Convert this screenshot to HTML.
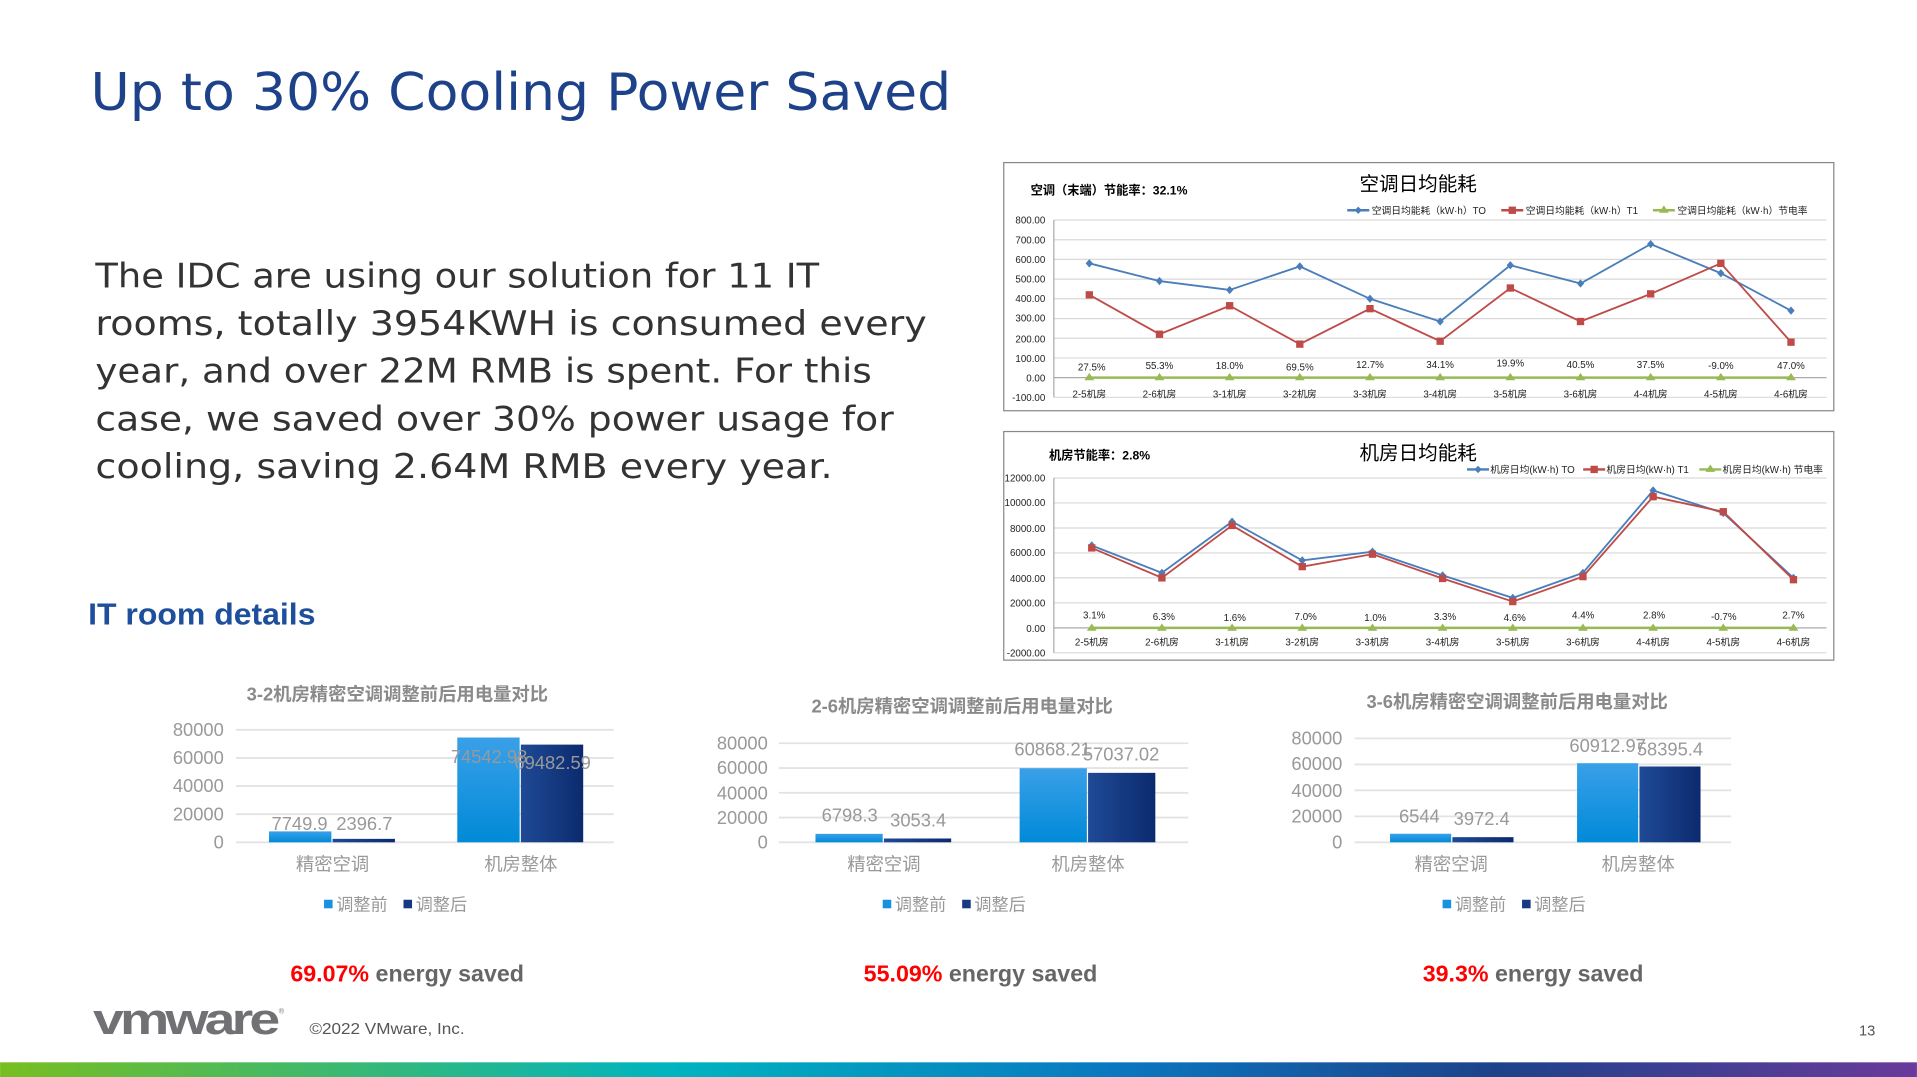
<!DOCTYPE html>
<html><head><meta charset="utf-8"><style>
html,body{margin:0;padding:0;background:#fff;}
svg{display:block;}
text{font-family:"Liberation Sans","Noto Sans CJK SC",sans-serif;}
.dj{font-family:"DejaVu Sans","Liberation Sans",sans-serif;}
</style></head><body>
<svg width="1917" height="1077" viewBox="0 0 1568 881" xmlns="http://www.w3.org/2000/svg">
<defs>
<linearGradient id="foot" x1="0" x2="1" y1="0" y2="0">
<stop offset="0" stop-color="#78be20"/><stop offset="0.35" stop-color="#00b4c0"/><stop offset="0.58" stop-color="#0a78c0"/><stop offset="0.78" stop-color="#1d428a"/><stop offset="1" stop-color="#6a3a9c"/>
</linearGradient>
<linearGradient id="lb" x1="0" x2="0" y1="0" y2="1"><stop offset="0" stop-color="#3aa0e8"/><stop offset="1" stop-color="#008ad8"/></linearGradient>
<linearGradient id="db" x1="0" x2="1" y1="0" y2="0"><stop offset="0" stop-color="#1f4a96"/><stop offset="1" stop-color="#0c2a6e"/></linearGradient>
</defs>
<rect width="1568" height="881" fill="#fff"/>
<text class="dj" x="74" y="90" font-size="42" fill="#1d428a" textLength="704" lengthAdjust="spacingAndGlyphs">Up to 30% Cooling Power Saved</text>
<g font-size="28" fill="#333" class="dj">
<text class="dj" x="78" y="235" textLength="592" lengthAdjust="spacingAndGlyphs">The IDC are using our solution for 11 IT</text>
<text class="dj" x="78" y="274" textLength="680" lengthAdjust="spacingAndGlyphs">rooms, totally 3954KWH is consumed every</text>
<text class="dj" x="78" y="313" textLength="635" lengthAdjust="spacingAndGlyphs">year, and over 22M RMB is spent. For this</text>
<text class="dj" x="78" y="352" textLength="653" lengthAdjust="spacingAndGlyphs">case, we saved over 30% power usage for</text>
<text class="dj" x="78" y="391" textLength="603" lengthAdjust="spacingAndGlyphs">cooling, saving 2.64M RMB every year.</text>
</g>
<text x="72" y="511" font-size="25" font-weight="bold" fill="#1d4f9c" textLength="186" lengthAdjust="spacingAndGlyphs">IT room details</text>

<!-- Chart 1 -->
<rect x="821" y="133" width="679" height="203" fill="#fff" stroke="#888" stroke-width="1"/>
<text x="843" y="159" font-size="10" font-weight="bold" fill="#000">空调（末端）节能率：32.1%</text>
<text x="1160" y="156" font-size="16" text-anchor="middle" fill="#000">空调日均能耗</text>
<g font-size="8" fill="#222">
<line x1="1102" y1="172" x2="1120" y2="172" stroke="#4a7ebb" stroke-width="2"/><path d="M1111 169l3 3-3 3-3-3z" fill="#4a7ebb"/><text x="1122" y="175">空调日均能耗（kW·h）TO</text>
<line x1="1228" y1="172" x2="1246" y2="172" stroke="#be4b48" stroke-width="2"/><rect x="1234" y="169" width="6" height="6" fill="#be4b48"/><text x="1248" y="175">空调日均能耗（kW·h）T1</text>
<line x1="1352" y1="172" x2="1370" y2="172" stroke="#98b954" stroke-width="2"/><path d="M1361 168l4 6h-8z" fill="#98b954"/><text x="1372" y="175">空调日均能耗（kW·h）节电率</text>
</g>
<g stroke="#d9d9d9" stroke-width="1">
<line x1="862" x2="1494" y1="180" y2="180"/><line x1="862" x2="1494" y1="196.1" y2="196.1"/><line x1="862" x2="1494" y1="212.2" y2="212.2"/><line x1="862" x2="1494" y1="228.3" y2="228.3"/><line x1="862" x2="1494" y1="244.4" y2="244.4"/><line x1="862" x2="1494" y1="260.6" y2="260.6"/><line x1="862" x2="1494" y1="276.7" y2="276.7"/><line x1="862" x2="1494" y1="292.8" y2="292.8"/><line x1="862" x2="1494" y1="325" y2="325"/>
</g>
<line x1="862" x2="1494" y1="308.9" y2="308.9" stroke="#aaa"/>
<line x1="862" x2="862" y1="180" y2="325" stroke="#aaa"/>
<g font-size="8" fill="#222" text-anchor="end">
<text x="855" y="183">800.00</text><text x="855" y="199">700.00</text><text x="855" y="215">600.00</text><text x="855" y="231">500.00</text><text x="855" y="247">400.00</text><text x="855" y="263">300.00</text><text x="855" y="280">200.00</text><text x="855" y="296">100.00</text><text x="855" y="312">0.00</text><text x="855" y="328">-100.00</text>
</g>
<polyline fill="none" stroke="#4a7ebb" stroke-width="1.5" points="891,215.4 948.4,229.9 1005.8,237.2 1063.2,217.9 1120.6,244.4 1178,263 1235.4,217 1292.8,231.9 1350.2,199.7 1407.6,223.5 1465,254.1"/>
<g fill="#4a7ebb"><path d="M891 212l3 3.4-3 3.4-3-3.4z"/><path d="M948.4 226.5l3 3.4-3 3.4-3-3.4z"/><path d="M1005.8 233.8l3 3.4-3 3.4-3-3.4z"/><path d="M1063.2 214.5l3 3.4-3 3.4-3-3.4z"/><path d="M1120.6 241l3 3.4-3 3.4-3-3.4z"/><path d="M1178 259.6l3 3.4-3 3.4-3-3.4z"/><path d="M1235.4 213.6l3 3.4-3 3.4-3-3.4z"/><path d="M1292.8 228.5l3 3.4-3 3.4-3-3.4z"/><path d="M1350.2 196.3l3 3.4-3 3.4-3-3.4z"/><path d="M1407.6 220.1l3 3.4-3 3.4-3-3.4z"/><path d="M1465 250.7l3 3.4-3 3.4-3-3.4z"/></g>
<polyline fill="none" stroke="#be4b48" stroke-width="1.5" points="891,241.2 948.4,273.4 1005.8,250.1 1063.2,281.5 1120.6,252.5 1178,279.1 1235.4,235.6 1292.8,263 1350.2,240.4 1407.6,215.4 1465,279.9"/>
<g fill="#be4b48"><rect x="888" y="238.2" width="6" height="6"/><rect x="945.4" y="270.4" width="6" height="6"/><rect x="1002.8" y="247.1" width="6" height="6"/><rect x="1060.2" y="278.5" width="6" height="6"/><rect x="1117.6" y="249.5" width="6" height="6"/><rect x="1175" y="276.1" width="6" height="6"/><rect x="1232.4" y="232.6" width="6" height="6"/><rect x="1289.8" y="260" width="6" height="6"/><rect x="1347.2" y="237.4" width="6" height="6"/><rect x="1404.6" y="212.4" width="6" height="6"/><rect x="1462" y="276.9" width="6" height="6"/></g>
<line x1="891" x2="1465" y1="308.9" y2="308.9" stroke="#98b954" stroke-width="2"/>
<g fill="#98b954"><path d="M891 305l4 6h-8z"/><path d="M948.4 305l4 6h-8z"/><path d="M1005.8 305l4 6h-8z"/><path d="M1063.2 305l4 6h-8z"/><path d="M1120.6 305l4 6h-8z"/><path d="M1178 305l4 6h-8z"/><path d="M1235.4 305l4 6h-8z"/><path d="M1292.8 305l4 6h-8z"/><path d="M1350.2 305l4 6h-8z"/><path d="M1407.6 305l4 6h-8z"/><path d="M1465 305l4 6h-8z"/></g>
<g font-size="8" fill="#222" text-anchor="middle">
<text x="893" y="303">27.5%</text><text x="948.4" y="302">55.3%</text><text x="1005.8" y="302">18.0%</text><text x="1063.2" y="303">69.5%</text><text x="1120.6" y="301">12.7%</text><text x="1178" y="301">34.1%</text><text x="1235.4" y="300">19.9%</text><text x="1292.8" y="301">40.5%</text><text x="1350.2" y="301">37.5%</text><text x="1407.6" y="302">-9.0%</text><text x="1465" y="302">47.0%</text>
<text x="891" y="325">2-5机房</text><text x="948.4" y="325">2-6机房</text><text x="1005.8" y="325">3-1机房</text><text x="1063.2" y="325">3-2机房</text><text x="1120.6" y="325">3-3机房</text><text x="1178" y="325">3-4机房</text><text x="1235.4" y="325">3-5机房</text><text x="1292.8" y="325">3-6机房</text><text x="1350.2" y="325">4-4机房</text><text x="1407.6" y="325">4-5机房</text><text x="1465" y="325">4-6机房</text>
</g>

<!-- Chart 2 -->
<rect x="821" y="353" width="679" height="187" fill="#fff" stroke="#888" stroke-width="1"/>
<text x="858" y="376" font-size="10" font-weight="bold" fill="#000">机房节能率：2.8%</text>
<text x="1160" y="376" font-size="16" text-anchor="middle" fill="#000">机房日均能耗</text>
<g font-size="8" fill="#222">
<line x1="1200" y1="384" x2="1218" y2="384" stroke="#4a7ebb" stroke-width="2"/><path d="M1209 381l3 3-3 3-3-3z" fill="#4a7ebb"/><text x="1219" y="387">机房日均(kW·h) TO</text>
<line x1="1295" y1="384" x2="1313" y2="384" stroke="#be4b48" stroke-width="2"/><rect x="1301" y="381" width="6" height="6" fill="#be4b48"/><text x="1314" y="387">机房日均(kW·h) T1</text>
<line x1="1390" y1="384" x2="1408" y2="384" stroke="#98b954" stroke-width="2"/><path d="M1399 380l4 6h-8z" fill="#98b954"/><text x="1409" y="387">机房日均(kW·h) 节电率</text>
</g>
<g stroke="#d9d9d9" stroke-width="1">
<line x1="862" x2="1494" y1="391" y2="391"/><line x1="862" x2="1494" y1="411.4" y2="411.4"/><line x1="862" x2="1494" y1="431.9" y2="431.9"/><line x1="862" x2="1494" y1="452.3" y2="452.3"/><line x1="862" x2="1494" y1="472.7" y2="472.7"/><line x1="862" x2="1494" y1="493.1" y2="493.1"/><line x1="862" x2="1494" y1="534" y2="534"/>
</g>
<line x1="862" x2="1494" y1="513.6" y2="513.6" stroke="#aaa"/>
<line x1="862" x2="862" y1="391" y2="534" stroke="#aaa"/>
<g font-size="8" fill="#222" text-anchor="end">
<text x="855" y="394">12000.00</text><text x="855" y="414">10000.00</text><text x="855" y="435">8000.00</text><text x="855" y="455">6000.00</text><text x="855" y="476">4000.00</text><text x="855" y="496">2000.00</text><text x="855" y="517">0.00</text><text x="855" y="537">-2000.00</text>
</g>
<polyline fill="none" stroke="#4a7ebb" stroke-width="1.5" points="893,446.2 950.4,468.6 1007.8,426.7 1065.2,458.4 1122.6,451.3 1180,470.7 1237.4,489.1 1294.8,468.6 1352.2,401.2 1409.6,419.6 1467,472.7"/>
<g fill="#4a7ebb"><path d="M893 442.8l3 3.4-3 3.4-3-3.4z"/><path d="M950.4 465.2l3 3.4-3 3.4-3-3.4z"/><path d="M1007.8 423.3l3 3.4-3 3.4-3-3.4z"/><path d="M1065.2 455l3 3.4-3 3.4-3-3.4z"/><path d="M1122.6 447.9l3 3.4-3 3.4-3-3.4z"/><path d="M1180 467.3l3 3.4-3 3.4-3-3.4z"/><path d="M1237.4 485.7l3 3.4-3 3.4-3-3.4z"/><path d="M1294.8 465.2l3 3.4-3 3.4-3-3.4z"/><path d="M1352.2 397.8l3 3.4-3 3.4-3-3.4z"/><path d="M1409.6 416.2l3 3.4-3 3.4-3-3.4z"/><path d="M1467 469.3l3 3.4-3 3.4-3-3.4z"/></g>
<polyline fill="none" stroke="#be4b48" stroke-width="1.5" points="893,448.2 950.4,472.7 1007.8,429.8 1065.2,463.5 1122.6,453.3 1180,473.2 1237.4,492.1 1294.8,471.7 1352.2,406.3 1409.6,418.6 1467,474.2"/>
<g fill="#be4b48"><rect x="890" y="445.2" width="6" height="6"/><rect x="947.4" y="469.7" width="6" height="6"/><rect x="1004.8" y="426.8" width="6" height="6"/><rect x="1062.2" y="460.5" width="6" height="6"/><rect x="1119.6" y="450.3" width="6" height="6"/><rect x="1177" y="470.2" width="6" height="6"/><rect x="1234.4" y="489.1" width="6" height="6"/><rect x="1291.8" y="468.7" width="6" height="6"/><rect x="1349.2" y="403.3" width="6" height="6"/><rect x="1406.6" y="415.6" width="6" height="6"/><rect x="1464" y="471.2" width="6" height="6"/></g>
<line x1="893" x2="1467" y1="513.6" y2="513.6" stroke="#98b954" stroke-width="2"/>
<g fill="#98b954"><path d="M893 510l4 6h-8z"/><path d="M950.4 510l4 6h-8z"/><path d="M1007.8 510l4 6h-8z"/><path d="M1065.2 510l4 6h-8z"/><path d="M1122.6 510l4 6h-8z"/><path d="M1180 510l4 6h-8z"/><path d="M1237.4 510l4 6h-8z"/><path d="M1294.8 510l4 6h-8z"/><path d="M1352.2 510l4 6h-8z"/><path d="M1409.6 510l4 6h-8z"/><path d="M1467 510l4 6h-8z"/></g>
<g font-size="8" fill="#222" text-anchor="middle">
<text x="895" y="506">3.1%</text><text x="952" y="507">6.3%</text><text x="1010" y="508">1.6%</text><text x="1068" y="507">7.0%</text><text x="1125" y="508">1.0%</text><text x="1182" y="507">3.3%</text><text x="1239" y="508">4.6%</text><text x="1295" y="506">4.4%</text><text x="1353" y="506">2.8%</text><text x="1410" y="507">-0.7%</text><text x="1467" y="506">2.7%</text>
<text x="893" y="528">2-5机房</text><text x="950.4" y="528">2-6机房</text><text x="1007.8" y="528">3-1机房</text><text x="1065.2" y="528">3-2机房</text><text x="1122.6" y="528">3-3机房</text><text x="1180" y="528">3-4机房</text><text x="1237.4" y="528">3-5机房</text><text x="1294.8" y="528">3-6机房</text><text x="1352.2" y="528">4-4机房</text><text x="1409.6" y="528">4-5机房</text><text x="1467" y="528">4-6机房</text>
</g>

<!-- Bar chart A -->
<text x="325" y="573" font-size="15" font-weight="bold" fill="#8a8a8a" text-anchor="middle">3-2机房精密空调调整前后用电量对比</text>
<g stroke="#e3e3e3" stroke-width="1.5"><line x1="193" x2="502" y1="597" y2="597"/><line x1="193" x2="502" y1="620" y2="620"/><line x1="193" x2="502" y1="643" y2="643"/><line x1="193" x2="502" y1="666" y2="666"/><line x1="193" x2="502" y1="689" y2="689"/></g>
<g font-size="15" fill="#999" text-anchor="end"><text x="183" y="602">80000</text><text x="183" y="625">60000</text><text x="183" y="648">40000</text><text x="183" y="671">20000</text><text x="183" y="694">0</text></g>
<rect x="220" y="680.1" width="51" height="8.9" fill="url(#lb)"/><rect x="272" y="686.2" width="51" height="2.8" fill="url(#db)"/>
<rect x="374" y="603.3" width="51" height="85.7" fill="url(#lb)"/><rect x="426" y="609.1" width="51" height="79.9" fill="url(#db)"/>
<g font-size="15" fill="#999" text-anchor="middle"><text x="245" y="679">7749.9</text><text x="298" y="679">2396.7</text><text x="400" y="624">74542.98</text><text x="452" y="629">69482.59</text>
<text x="272" y="712">精密空调</text><text x="426" y="712">机房整体</text></g>
<rect x="265" y="736" width="7" height="7" fill="#1a90e0"/><text x="275" y="745" font-size="14" fill="#999">调整前</text>
<rect x="330" y="736" width="7" height="7" fill="#173a82"/><text x="340" y="745" font-size="14" fill="#999">调整后</text>
<text x="333" y="803" font-size="19" font-weight="bold" text-anchor="middle"><tspan fill="#f00">69.07%</tspan><tspan fill="#666"> energy saved</tspan></text>

<!-- Bar chart B -->
<text x="787" y="583" font-size="15" font-weight="bold" fill="#8a8a8a" text-anchor="middle">2-6机房精密空调调整前后用电量对比</text>
<g stroke="#e3e3e3" stroke-width="1.5"><line x1="637" x2="972" y1="608" y2="608"/><line x1="637" x2="972" y1="628.3" y2="628.3"/><line x1="637" x2="972" y1="648.5" y2="648.5"/><line x1="637" x2="972" y1="668.8" y2="668.8"/><line x1="637" x2="972" y1="689" y2="689"/></g>
<g font-size="15" fill="#999" text-anchor="end"><text x="628" y="613">80000</text><text x="628" y="633">60000</text><text x="628" y="654">40000</text><text x="628" y="674">20000</text><text x="628" y="694">0</text></g>
<rect x="667" y="682.1" width="55" height="6.9" fill="url(#lb)"/><rect x="723" y="685.9" width="55" height="3.1" fill="url(#db)"/>
<rect x="834" y="628.4" width="55" height="60.6" fill="url(#lb)"/><rect x="890" y="632.2" width="55" height="56.8" fill="url(#db)"/>
<g font-size="15" fill="#999" text-anchor="middle"><text x="695" y="672">6798.3</text><text x="751" y="676">3053.4</text><text x="861" y="618">60868.21</text><text x="917" y="622">57037.02</text>
<text x="723" y="712">精密空调</text><text x="890" y="712">机房整体</text></g>
<rect x="722" y="736" width="7" height="7" fill="#1a90e0"/><text x="732" y="745" font-size="14" fill="#999">调整前</text>
<rect x="787" y="736" width="7" height="7" fill="#173a82"/><text x="797" y="745" font-size="14" fill="#999">调整后</text>
<text x="802" y="803" font-size="19" font-weight="bold" text-anchor="middle"><tspan fill="#f00">55.09%</tspan><tspan fill="#666"> energy saved</tspan></text>

<!-- Bar chart C -->
<text x="1241" y="579" font-size="15" font-weight="bold" fill="#8a8a8a" text-anchor="middle">3-6机房精密空调调整前后用电量对比</text>
<g stroke="#e3e3e3" stroke-width="1.5"><line x1="1108" x2="1416" y1="604" y2="604"/><line x1="1108" x2="1416" y1="625.3" y2="625.3"/><line x1="1108" x2="1416" y1="646.5" y2="646.5"/><line x1="1108" x2="1416" y1="667.8" y2="667.8"/><line x1="1108" x2="1416" y1="689" y2="689"/></g>
<g font-size="15" fill="#999" text-anchor="end"><text x="1098" y="609">80000</text><text x="1098" y="630">60000</text><text x="1098" y="652">40000</text><text x="1098" y="673">20000</text><text x="1098" y="694">0</text></g>
<rect x="1137" y="682" width="50" height="7" fill="url(#lb)"/><rect x="1188" y="684.8" width="50" height="4.2" fill="url(#db)"/>
<rect x="1290" y="624.3" width="50" height="64.7" fill="url(#lb)"/><rect x="1341" y="627" width="50" height="62" fill="url(#db)"/>
<g font-size="15" fill="#999" text-anchor="middle"><text x="1161" y="673">6544</text><text x="1212" y="675">3972.4</text><text x="1315" y="615">60912.97</text><text x="1366" y="618">58395.4</text>
<text x="1187" y="712">精密空调</text><text x="1340" y="712">机房整体</text></g>
<rect x="1180" y="736" width="7" height="7" fill="#1a90e0"/><text x="1190" y="745" font-size="14" fill="#999">调整前</text>
<rect x="1245" y="736" width="7" height="7" fill="#173a82"/><text x="1255" y="745" font-size="14" fill="#999">调整后</text>
<text x="1254" y="803" font-size="19" font-weight="bold" text-anchor="middle"><tspan fill="#f00">39.3%</tspan><tspan fill="#666"> energy saved</tspan></text>

<!-- Footer -->
<text x="76" y="846" font-size="36" font-weight="bold" fill="#717074" letter-spacing="-2.5" textLength="150" lengthAdjust="spacingAndGlyphs">vmware</text>
<text x="228" y="829" font-size="6" fill="#717074">®</text>
<text x="253" y="846" font-size="13" fill="#555" textLength="127" lengthAdjust="spacingAndGlyphs">©2022 VMware, Inc.</text>
<text x="1534" y="847" font-size="12" fill="#555" text-anchor="end">13</text>
<rect x="0" y="869" width="1568" height="12" fill="url(#foot)"/>
</svg>
</body></html>
